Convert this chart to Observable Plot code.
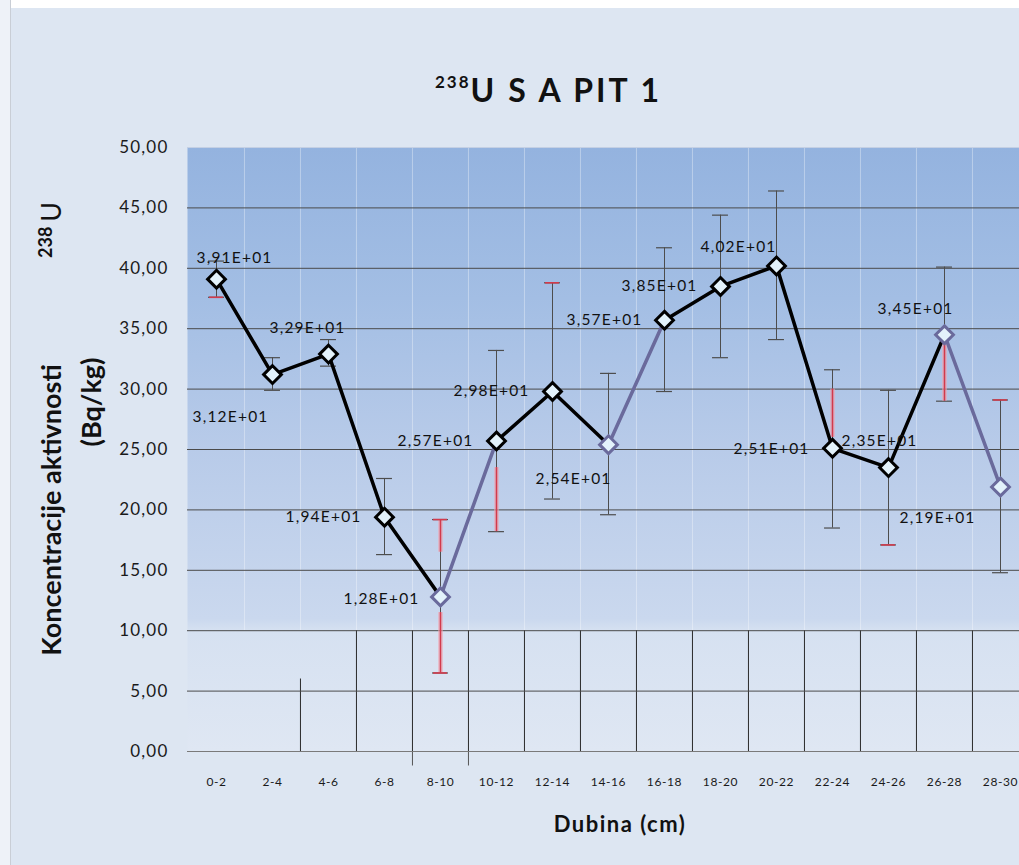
<!DOCTYPE html>
<html>
<head>
<meta charset="utf-8">
<script src="https://cdn.jsdelivr.net/npm/d3@7"></script>
<script src="https://cdn.jsdelivr.net/npm/@observablehq/plot@0.6"></script>
<style>
  html, body { margin: 0; padding: 0; background: #ffffff; }
  #chart { position: relative; width: 1019px; height: 865px; background: #dde6f2; overflow: hidden; font-family: Lato, "Open Sans", sans-serif; }
  #stripTop { position: absolute; left: 0; top: 0; width: 1019px; height: 8px; background: #ffffff; }
  #stripLeft { position: absolute; left: 0; top: 0; width: 10px; height: 865px; background: #eef2f8; border-right: 1px solid #c9ced6; }
  #title { position: relative; height: 130px; }
  #title .t { position: absolute; left: 435px; top: 74px; font-weight: 700; font-size: 32px; letter-spacing: 3px; color: #111; white-space: pre; line-height: 32px; }
  #title .t .sup { font-size: 17px; letter-spacing: 2px; position: relative; top: -14px; }
  #plot svg { display: block; overflow: hidden; }
  #plot svg text { letter-spacing: 1.2px; }
</style>
</head>
<body>
<div id="chart">
  <div id="stripTop"></div>
  <div id="stripLeft"></div>
  <div id="title"><div class="t"><span class="sup">238</span>U S A PIT 1</div></div>
  <div id="plot"></div>
</div>
<script>
// ---- data ----
const categories = ["0-2","2-4","4-6","6-8","8-10","10-12","12-14","14-16","16-18","18-20","20-22","22-24","24-26","26-28","28-30"];
const values   = [39.1, 31.2, 32.9, 19.4, 12.8, 25.7, 29.8, 25.4, 35.7, 38.5, 40.2, 25.1, 23.5, 34.5, 21.9];
const errLow   = [37.6, 29.9, 31.9, 16.3,  6.5, 18.2, 20.9, 19.6, 29.8, 32.6, 34.1, 18.5, 17.1, 29.0, 14.8];
const errHigh  = [40.6, 32.6, 34.1, 22.6, 19.2, 33.2, 38.8, 31.3, 41.7, 44.4, 46.4, 31.6, 29.9, 40.1, 29.1];
const yTicks   = [0, 5, 10, 15, 20, 25, 30, 35, 40, 45, 50];

// reddish highlighted pieces of error bars as seen in the picture
const redSpanCats = ["8-10", "8-10", "10-12", "22-24", "26-28"];
const redSpanLow  = [6.5, 16.5, 18.2, 26.0, 29.0];
const redSpanHigh = [11.5, 19.2, 23.5, 30.0, 34.0];
const redCapCats  = ["0-2", "8-10", "8-10", "12-14", "28-30", "24-26"];
const redCapVals  = [37.6, 6.5, 19.2, 38.8, 29.1, 17.1];

// ---- label placement & tones (layout/style, not data) ----
const labelNudge = [[18,-21],[-42,42],[-21,-26],[-61,0],[-59,2],[-61,0],[-61,0],[-35,34],[-60,0],[-61,0],[-38,-19],[-61,1],[-9,-27],[-29,-26],[-63,31]];
const segmentTone = ["ink","ink","ink","ink","slate","ink","ink","slate","ink","ink","ink","ink","ink","slate"];
const markerTone  = ["ink","ink","ink","ink","slate","ink","ink","slate","ink","ink","ink","ink","ink","slate","slate"];
const tones = {ink: "#000000", slate: "#6a6a9c"};

const plotLeft = 187, plotRight = 1028;
const bw = (plotRight - plotLeft) / categories.length;

const fmtSci = v => {
  const [m, e] = v.toExponential(2).split("e");
  const sign = e[0] === "-" ? "-" : "+";
  const exp = e.replace(/^[+-]/, "").padStart(2, "0");
  return m.replace(".", ",") + "E" + sign + exp;
};

const data = categories.map((c, i) => ({cat: c, v: values[i], lo: errLow[i], hi: errHigh[i], label: fmtSci(values[i]), i}));
const segs = data.slice(0, -1).map((d, i) => ({a: d.cat, b: data[i + 1].cat, va: d.v, vb: data[i + 1].v, tone: tones[segmentTone[i]]}));
const redSpans = redSpanCats.map((c, i) => ({cat: c, lo: redSpanLow[i], hi: redSpanHigh[i]}));
const redCaps = redCapCats.map((c, i) => ({cat: c, v: redCapVals[i]}));

const labelMarks = data.map((d, i) => Plot.text([d], {
  x: "cat", y: "v", text: "label",
  dx: labelNudge[i][0], dy: labelNudge[i][1],
  fontSize: 15.5, fill: "#111", textAnchor: "middle"
}));

const capInset = bw / 2 - 8;

const chart = Plot.plot({
  width: 1019,
  height: 735,
  marginTop: 17,
  marginBottom: 114,
  marginLeft: plotLeft,
  marginRight: 0,
  style: {fontFamily: "Lato, 'Open Sans', sans-serif", fontSize: "17px", background: "transparent", color: "#1a1a1a"},
  x: {domain: categories, range: [plotLeft, plotRight], padding: 0, tickSize: 0, tickPadding: 26, label: null},
  y: {domain: [0, 50], ticks: yTicks, tickFormat: d => d.toFixed(2).replace(".", ","), tickSize: 0, tickPadding: 19, label: null},
  marks: [
    Plot.frame({fill: "url(#plotbg)", stroke: null}),
    // faint vertical separators in upper part
    Plot.ruleX(categories.slice(1), {x: d => d, dx: -bw / 2, y1: 10, y2: 50, stroke: "#ffffff", strokeOpacity: 0.35}),
    // dark vertical separators in lower part
    Plot.ruleX(categories.slice(2, 3), {x: d => d, dx: -bw / 2, y1: 0, y2: 6, stroke: "#2a2a2a"}),
    Plot.ruleX(categories.slice(3), {x: d => d, dx: -bw / 2, y1: 0, y2: 10, stroke: "#2a2a2a"}),
    Plot.ruleX(categories.slice(4, 6), {x: d => d, dx: -bw / 2, y1: -1.2, y2: 0, stroke: "#555"}),
    // horizontal gridlines
    Plot.ruleY(yTicks.filter(t => t > 0 && t < 50), {stroke: "#4a4a4a", strokeWidth: 1}),
    Plot.ruleY([50], {stroke: "#c4d0e4", strokeWidth: 1}),
    Plot.ruleY([0], {stroke: "#7a7a7a", strokeWidth: 1}),
    Plot.ruleY([40], {x1: [categories[10]], stroke: "#333", strokeWidth: 2.5, insetLeft: bw / 2}),
    // error bars
    Plot.ruleX(data, {x: "cat", y1: "lo", y2: "hi", stroke: "#4d4d4d", strokeWidth: 1}),
    Plot.tickY(data, {x: "cat", y: "lo", stroke: "#4d4d4d", strokeWidth: 1.2, insetLeft: capInset, insetRight: capInset}),
    Plot.tickY(data, {x: "cat", y: "hi", stroke: "#4d4d4d", strokeWidth: 1.2, insetLeft: capInset, insetRight: capInset}),
    Plot.ruleX(redSpans, {x: "cat", y1: "lo", y2: "hi", stroke: "#f2a3ae", strokeWidth: 5, strokeOpacity: 0.55}),
    Plot.ruleX(redSpans, {x: "cat", y1: "lo", y2: "hi", stroke: "#d23a4c", strokeWidth: 1.6}),
    Plot.tickY(redCaps, {x: "cat", y: "v", stroke: "#d23a4c", strokeWidth: 1.6, insetLeft: capInset + 1, insetRight: capInset + 1}),
    // connecting line
    Plot.link(segs, {x1: "a", x2: "b", y1: "va", y2: "vb", stroke: d => d.tone, strokeWidth: 3.5, strokeLinecap: "round"}),
    // markers
    Plot.dot(data, {x: "cat", y: "v", symbol: "diamond2", r: 8, fill: "#e3f2fb", stroke: d => tones[markerTone[d.i]], strokeWidth: 3}),
    ...labelMarks
  ]
});

document.getElementById("plot").appendChild(chart);

const svg = d3.select(chart.tagName.toLowerCase() === "svg" ? chart : chart.querySelector("svg"));
svg.insert("defs", ":first-child").html(
  `<linearGradient id="plotbg" x1="0" y1="0" x2="0" y2="1">
     <stop offset="0" stop-color="#94b3df"/>
     <stop offset="0.25" stop-color="#a3bee4"/>
     <stop offset="0.5" stop-color="#b8cbe9"/>
     <stop offset="0.78" stop-color="#cad8ee"/>
     <stop offset="0.8" stop-color="#d6e1f1"/>
     <stop offset="1" stop-color="#dfe7f3"/>
   </linearGradient>`
);

// axis tick label fonts
svg.selectAll('g[aria-label="x-axis tick label"] text').style("letter-spacing", "0.6px");
svg.selectAll('g[aria-label="x-axis tick label"]').attr("font-size", 12);
svg.selectAll('g[aria-label="y-axis tick label"]').attr("font-size", 17);

const off = 130; // svg top in page coords
// y-axis title
svg.append("text")
  .attr("transform", `translate(61,${510 - off}) rotate(-90)`)
  .attr("text-anchor", "middle")
  .attr("font-size", 27).attr("font-weight", 700).attr("fill", "#111")
  .style("letter-spacing", "0px")
  .text("Koncentracije aktivnosti");
const iso = svg.append("text")
  .attr("transform", `translate(61,${258 - off}) rotate(-90)`)
  .attr("text-anchor", "start").attr("fill", "#111")
  .style("letter-spacing", "0px");
iso.append("tspan").attr("font-size", 18).attr("font-weight", 700).attr("dy", -9).text("238");
iso.append("tspan").attr("font-size", 27).attr("font-weight", 400).attr("dx", 5).attr("dy", 9).text("U");
svg.append("text")
  .attr("transform", `translate(101,${402 - off}) rotate(-90)`)
  .attr("text-anchor", "middle")
  .attr("font-size", 27).attr("font-weight", 700).attr("fill", "#111")
  .style("letter-spacing", "0px")
  .text("(Bq/kg)");
// x-axis title
svg.append("text")
  .attr("x", 620).attr("y", 832 - off)
  .attr("text-anchor", "middle")
  .attr("font-size", 22).attr("font-weight", 700).attr("fill", "#111")
  .style("letter-spacing", "1.5px")
  .text("Dubina (cm)");
</script>
</body>
</html>
